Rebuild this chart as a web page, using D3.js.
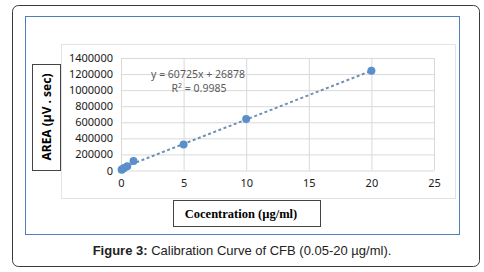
<!DOCTYPE html>
<html>
<head>
<meta charset="utf-8">
<script src="https://cdn.jsdelivr.net/npm/d3@7"></script>
<style>
  body { margin: 0; background: #fff; }
  svg { display: block; }
</style>
</head>
<body>
<svg></svg>
<script>
const svg = d3.select('svg')
	.attr('width', 484)
	.attr('height', 272);

// data
const concentration = [0.05, 0.1, 0.25, 0.5, 1, 5, 10, 20];
const area = [8000, 15000, 30000, 52000, 118000, 325000, 640000, 1240000];
const xTicks = [0, 5, 10, 15, 20, 25];
const yTicks = [0, 200000, 400000, 600000, 800000, 1000000, 1200000, 1400000];
const slope = 60725, intercept = 26878;
const equationText = 'y = 60725x + 26878';
const rSquared = '0.9985';

// frames
svg.append('rect')
	.attr('x', 12.5).attr('y', 5.5)
	.attr('width', 467).attr('height', 261)
	.attr('rx', 6)
	.attr('fill', '#fff')
	.attr('stroke', '#3a3a3a');

svg.append('rect')
	.attr('x', 25.5).attr('y', 16.5)
	.attr('width', 434).attr('height', 218)
	.attr('fill', 'none')
	.attr('stroke', '#4f7fba');

svg.append('rect')
	.attr('x', 61.5).attr('y', 44.5)
	.attr('width', 394).attr('height', 154)
	.attr('fill', 'none')
	.attr('stroke', '#e3e3e3');

const margin = { left: 121, top: 58, right: 434, bottom: 170.5 };

const xScale = d3.scaleLinear()
	.domain([0, 25])
	.range([margin.left, margin.right]);

const yScale = d3.scaleLinear()
	.domain([0, 1400000])
	.range([margin.bottom, margin.top]);

// gridlines
const g = svg.append('g');

const yAxis = d3.axisLeft(yScale)
	.tickValues(yTicks)
	.tickSize(-(margin.right - margin.left))
	.tickPadding(8)
	.tickFormat(d3.format('d'));

const yAxisG = g.append('g')
	.attr('transform', `translate(${margin.left}, 0)`)
	.call(yAxis);
yAxisG.select('.domain').remove();
yAxisG.selectAll('line').attr('stroke', '#d9d9d9');

const xAxis = d3.axisBottom(xScale)
	.tickValues(xTicks)
	.tickSize(-(margin.bottom - margin.top))
	.tickPadding(9);

const xAxisG = g.append('g')
	.attr('transform', `translate(0, ${margin.bottom})`)
	.call(xAxis);
xAxisG.select('.domain').remove();
xAxisG.selectAll('line').attr('stroke', '#d9d9d9');

g.selectAll('.tick text')
	.attr('fill', '#1a1a1a')
	.style('font-family', '"Noto Sans", sans-serif')
	.style('font-size', '11px');

// trendline
const trend = d3.line()
	.x(d => xScale(d))
	.y(d => yScale(slope * d + intercept));

g.append('path')
	.attr('d', trend([0, 20]))
	.attr('fill', 'none')
	.attr('stroke', '#6f8fb2')
	.attr('stroke-width', 2)
	.attr('stroke-dasharray', '3,2.5');

// points
g.selectAll('circle')
	.data(concentration)
	.enter().append('circle')
	.attr('cx', d => xScale(d))
	.attr('cy', (d, i) => yScale(area[i]))
	.attr('r', 4)
	.attr('fill', '#5b8fcb');

// equation
const eq = g.append('text')
	.attr('text-anchor', 'middle')
	.attr('fill', '#595959')
	.style('font-family', '"Noto Sans", sans-serif')
	.style('font-size', '10.5px');
eq.append('tspan').attr('x', 198).attr('y', 78).text(equationText);
const r2 = eq.append('tspan').attr('x', 199).attr('y', 92);
r2.append('tspan').text('R');
r2.append('tspan').attr('dy', -4).style('font-size', '7px').text('2');
r2.append('tspan').attr('dy', 4).text(' = ' + rSquared);

// axis title boxes
svg.append('rect')
	.attr('x', 32.5).attr('y', 64.5)
	.attr('width', 28).attr('height', 106)
	.attr('fill', '#fff')
	.attr('stroke', '#444');

svg.append('text')
	.attr('transform', 'translate(50.5, 117) rotate(-90)')
	.attr('text-anchor', 'middle')
	.attr('fill', '#000')
	.style('font-family', '"Noto Sans", sans-serif')
	.style('font-weight', 'bold')
	.style('font-size', '12px')
	.text('AREA (µV . sec)');

svg.append('rect')
	.attr('x', 173.5).attr('y', 200.5)
	.attr('width', 147).attr('height', 26)
	.attr('fill', '#fff')
	.attr('stroke', '#444');

svg.append('text')
	.attr('x', 241)
	.attr('y', 217.5)
	.attr('text-anchor', 'middle')
	.attr('fill', '#000')
	.style('font-family', '"Liberation Serif", serif')
	.style('font-weight', 'bold')
	.style('font-size', '12.5px')
	.text('Cocentration (µg/ml)');

// caption
const cap = svg.append('text')
	.attr('x', 242)
	.attr('y', 255)
	.attr('text-anchor', 'middle')
	.attr('fill', '#222')
	.style('font-family', '"Liberation Sans", Arial, sans-serif')
	.style('font-size', '13px');
cap.append('tspan').style('font-weight', 'bold').text('Figure 3:');
cap.append('tspan').text(' Calibration Curve of CFB (0.05-20 µg/ml).');
</script>
</body>
</html>
